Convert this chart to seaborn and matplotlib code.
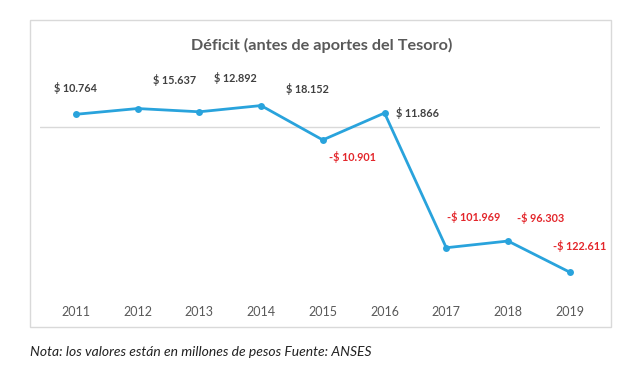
import pandas as pd
import numpy as np
import matplotlib.pyplot as plt
import seaborn as sns
from matplotlib.patches import Rectangle

years = ["2011", "2012", "2013", "2014", "2015", "2016", "2017", "2018", "2019"]
deficit = [10764, 15637, 12892, 18152, -10901, 11866, -101969, -96303, -122611]

# where each data label sits relative to its point (pixels, like in the original)
label_offsets = [(0, 26), (37, 29), (36, 34), (46, 17), (30, -17),
                 (33, 0), (27, 31), (33, 23), (10, 26)]


def fmt(v):
    s = f"{abs(v):,}".replace(",", ".")
    return f"-$ {s}" if v < 0 else f"$ {s}"


df = pd.DataFrame({"year": years, "deficit": deficit})

sns.set_theme(style="white")
plt.rcParams['font.family'] = ['Lato', 'DejaVu Sans']

fig = plt.figure(figsize=(6.29, 3.80), dpi=100)
ax = fig.add_axes([40 / 629, 1 - 295 / 380, 560 / 629, 225 / 380])

sns.lineplot(data=df, x="year", y="deficit", ax=ax, color="#29a3dc",
             linewidth=2, marker="o", markersize=5, markeredgewidth=0, sort=False)

ax.axhline(0, color="#d9d9d9", linewidth=1, zorder=0)

for i, (v, off) in enumerate(zip(deficit, label_offsets)):
    ax.annotate(fmt(v), (i, v), xytext=off, textcoords="offset pixels",
                ha="center", va="center", fontsize=7.8, fontweight="bold",
                color="#e3262b" if v < 0 else "#404040")

ax.set_xlim(-0.58, 8.49)
ax.set_ylim(-141900, 48200)
ax.set_xlabel("")
ax.set_ylabel("")
ax.set_yticks([])
ax.tick_params(axis="x", length=0, labelsize=9, colors="#595959", pad=8)
for sp in ax.spines.values():
    sp.set_visible(False)

fig.patches.append(Rectangle((30 / 629, 1 - 327 / 380), 581 / 629, 307 / 380,
                             transform=fig.transFigure, fill=False,
                             edgecolor="#d9d9d9", linewidth=1))

fig.text(322 / 629, 1 - 45 / 380, "Déficit (antes de aportes del Tesoro)",
         ha="center", va="center", fontsize=11.7, fontweight="bold", color="#595959")
fig.text(30 / 629, 1 - 352 / 380, "Nota: los valores están en millones de pesos Fuente: ANSES",
         ha="left", va="center", fontsize=10, fontstyle="italic", color="#222222")

fig.savefig("out.png", dpi=100)
